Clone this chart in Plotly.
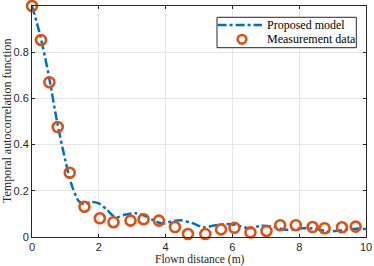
import plotly.graph_objects as go

# Measurement data
meas_x = [0.0, 0.27, 0.52, 0.77, 1.13, 1.57, 2.03, 2.44, 2.95, 3.34, 3.80, 4.28, 4.67,
          5.19, 5.66, 6.06, 6.54, 7.02, 7.43, 7.90, 8.40, 8.76, 9.28, 9.69]
meas_y = [1.0, 0.853, 0.670, 0.476, 0.278, 0.131, 0.081, 0.064, 0.071, 0.077, 0.071, 0.043, 0.013,
          0.013, 0.033, 0.040, 0.020, 0.026, 0.051, 0.051, 0.043, 0.038, 0.042, 0.045]

# Proposed model
model_x = [0.0, 0.25, 0.5, 0.75, 1.0, 1.2, 1.4, 1.55, 1.8, 2.0, 2.25, 2.5, 2.8, 3.1, 3.4, 3.7,
           3.9, 4.2, 4.45, 4.8, 5.15, 5.45, 5.8, 6.1, 6.5, 6.85, 7.2, 7.6, 8.1, 8.45, 8.9, 9.3,
           9.8, 10.0]
model_y = [1.0, 0.87, 0.70, 0.50, 0.33, 0.22, 0.155, 0.142, 0.152, 0.146, 0.117, 0.085, 0.097,
           0.103, 0.090, 0.068, 0.058, 0.068, 0.073, 0.060, 0.042, 0.050, 0.056, 0.052, 0.038,
           0.048, 0.045, 0.031, 0.038, 0.036, 0.024, 0.030, 0.037, 0.034]

x_ticks = [0, 2, 4, 6, 8, 10]
y_ticks = [0, 0.2, 0.4, 0.6, 0.8, 1]
y_tick_labels = ["0", "0.2", "0.4", "0.6", "0.8", "1"]

series_names = ["Proposed model", "Measurement data"]
x_title = "Flown distance (m)"
y_title = "Temporal autocorrelation function"

BLUE = "#0072BD"
ORANGE = "#D95319"
AX = "#262626"
SERIF = "Liberation Serif, DejaVu Serif, serif"
SANS = "Liberation Sans, Arial, sans-serif"

fig = go.Figure()
fig.add_trace(go.Scatter(
    x=model_x, y=model_y, mode="lines", name=series_names[0], showlegend=False,
    line=dict(color=BLUE, width=2.5, dash="dashdot", shape="spline", smoothing=0.8),
))
fig.add_trace(go.Scatter(
    x=meas_x, y=meas_y, mode="markers", name=series_names[1], showlegend=False,
    marker=dict(symbol="circle-open", size=10, color=ORANGE, line=dict(width=2.6, color=ORANGE)),
    cliponaxis=False,
))

axis_common = dict(
    showgrid=True, gridcolor="#e6e6e6", gridwidth=1,
    showline=True, linecolor=AX, linewidth=1, mirror="ticks",
    ticks="inside", ticklen=3, tickcolor=AX,
    tickfont=dict(family=SANS, size=11, color=AX),
    zeroline=False, automargin=False,
)

fig.update_layout(
    width=374, height=266,
    margin=dict(l=32, r=8, t=6, b=29),
    paper_bgcolor="white", plot_bgcolor="white",
    showlegend=False,
    xaxis=dict(range=[0, 10], tickvals=x_ticks, **axis_common),
    yaxis=dict(range=[0, 1], tickvals=y_ticks, ticktext=y_tick_labels, **axis_common),
)

# Axis titles
fig.add_annotation(text=x_title, xref="paper", yref="paper", x=0.504, y=0, yshift=-22,
                   xanchor="center", yanchor="middle", showarrow=False,
                   font=dict(family=SERIF, size=11.5, color=AX))
fig.add_annotation(text=y_title, xref="paper", yref="paper", x=0, y=0.5, xshift=-25.5,
                   xanchor="center", yanchor="middle", textangle=-90, showarrow=False,
                   font=dict(family=SERIF, size=12, color=AX))

# Legend (drawn in paper coordinates)
fig.add_shape(type="rect", xref="paper", yref="paper", x0=0.5539, x1=0.971, y0=0.8195, y1=0.9511,
              line=dict(color=AX, width=1), fillcolor="white", layer="above")
fig.add_shape(type="line", xref="paper", yref="paper", x0=0.5557, x1=0.6886, y0=0.9177, y1=0.9177,
              line=dict(color=BLUE, width=2.5, dash="dashdot"), layer="above")
fig.add_shape(type="circle", xref="paper", yref="paper", xsizemode="pixel", ysizemode="pixel",
              xanchor=0.6287, yanchor=0.8558, x0=-4.3, x1=4.3, y0=-4.3, y1=4.3,
              line=dict(color=ORANGE, width=2.6), layer="above")
fig.add_annotation(text=series_names[0], xref="paper", yref="paper", x=0.6985, y=0.9177,
                   xanchor="left", yanchor="middle", showarrow=False,
                   font=dict(family=SERIF, size=12, color="black"))
fig.add_annotation(text=series_names[1], xref="paper", yref="paper", x=0.6985, y=0.8558,
                   xanchor="left", yanchor="middle", showarrow=False,
                   font=dict(family=SERIF, size=12, color="black"))

fig.write_html("out.html", config={"displayModeBar": False},
               post_script="document.body.style.margin='0';document.body.style.overflow='hidden';")
